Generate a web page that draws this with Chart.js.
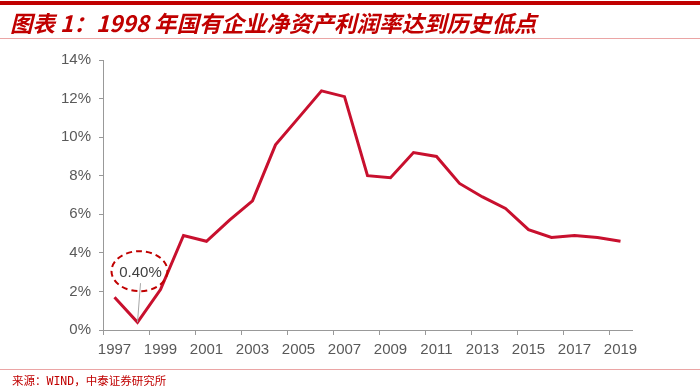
<!DOCTYPE html>
<html>
<head>
<meta charset="utf-8">
<script src="https://cdn.jsdelivr.net/npm/chart.js@4"></script>
<style>
    body { margin: 0; background: #fff; }
    #wrap { position: relative; width: 700px; height: 390px; overflow: hidden; }
    #chart { position: absolute; left: 0; top: 0; }
    .bar-top { position: absolute; left: 0; top: 1px; width: 700px; height: 4px; background: #c00000; }
    .rule { position: absolute; left: 0; width: 700px; height: 1px; background: #eba5a5; }
    #title { position: absolute; left: 10px; top: 6px; font: italic bold 22.5px "Noto Sans CJK SC", sans-serif; color: #c00000; white-space: nowrap; }
    #source { position: absolute; left: 12px; top: 372px; font: 11.5px "DejaVu Sans Mono", "Noto Sans CJK SC", monospace; color: #c00000; white-space: nowrap; }
</style>
</head>
<body>
<div id="wrap">
    <canvas id="chart" width="700" height="390"></canvas>
    <div class="bar-top"></div>
    <div id="title">图表 1：1998 年国有企业净资产利润率达到历史低点</div>
    <div class="rule" style="top:38px"></div>
    <div class="rule" style="top:369px"></div>
    <div id="source">来源：WIND，中泰证券研究所</div>
</div>
<script>
const years = ["1997", "1998", "1999", "2000", "2001", "2002", "2003", "2004", "2005", "2006", "2007", "2008",
    "2009", "2010", "2011", "2012", "2013", "2014", "2015", "2016", "2017", "2018", "2019"];
const roe = [1.7, 0.4, 2.1, 4.9, 4.6, 5.7, 6.7, 9.6, 11.0, 12.4, 12.1, 8.0,
    7.9, 9.2, 9.0, 7.6, 6.9, 6.3, 5.2, 4.8, 4.9, 4.8, 4.6];
const yTicks = [0, 2, 4, 6, 8, 10, 12, 14];
const lowIndex = 1; // 1998

// dashed ellipse callout on the 1998 low
const calloutPlugin = {
    id: "callout",
    afterDatasetsDraw(chart) {
        const ctx = chart.ctx;
        const x = chart.scales.x.getPixelForValue(lowIndex);
        const y = chart.scales.y.getPixelForValue(roe[lowIndex]);
        const cy = chart.scales.y.getPixelForValue(3.05);
        const cx = x + 2;

        ctx.save();
        ctx.strokeStyle = "#a6a6a6";
        ctx.lineWidth = 1;
        ctx.beginPath();
        ctx.moveTo(x, y);
        ctx.lineTo(cx + 1, cy + 12);
        ctx.stroke();

        ctx.strokeStyle = "#c00000";
        ctx.lineWidth = 2;
        ctx.setLineDash([6, 4]);
        ctx.beginPath();
        ctx.ellipse(cx, cy, 28, 20, 0, 0, Math.PI * 2);
        ctx.stroke();

        ctx.fillStyle = "#404040";
        ctx.font = "15px 'Liberation Sans', Arial, sans-serif";
        ctx.textAlign = "center";
        ctx.textBaseline = "middle";
        ctx.fillText(roe[lowIndex].toFixed(2) + "%", cx + 1, cy + 2);
        ctx.restore();
    }
};

new Chart(document.getElementById("chart"), {
    type: "line",
    data: {
        labels: years,
        datasets: [{
            data: roe,
            borderColor: "#c8102e",
            borderWidth: 3,
            pointRadius: 0,
            tension: 0,
            fill: false
        }]
    },
    options: {
        responsive: false,
        animation: false,
        events: [],
        layout: { padding: { left: 0, right: 68, top: 60, bottom: 0 } },
        plugins: {
            legend: { display: false },
            tooltip: { enabled: false }
        },
        scales: {
            x: {
                offset: true,
                afterFit: s => { s.height = 60; },
                border: { color: "#999", width: 1 },
                grid: {
                    offset: true,
                    drawOnChartArea: false,
                    tickLength: 5,
                    color: c => (c.index % 2 === 0 ? "#999" : "rgba(0,0,0,0)")
                },
                ticks: {
                    autoSkip: false,
                    maxRotation: 0,
                    padding: 6,
                    color: "#595959",
                    font: { family: "'Liberation Sans', Arial, sans-serif", size: 15 },
                    callback: (v, i) => (i % 2 === 0 ? years[i] : "")
                }
            },
            y: {
                min: 0,
                max: 14,
                afterFit: s => { s.width = 103; },
                afterBuildTicks: s => { s.ticks = yTicks.map(v => ({ value: v })); },
                border: { color: "#999", width: 1 },
                grid: { drawOnChartArea: false, tickLength: 4, color: "#999" },
                ticks: {
                    padding: 8,
                    color: "#595959",
                    font: { family: "'Liberation Sans', Arial, sans-serif", size: 15 },
                    callback: v => v + "%"
                }
            }
        }
    },
    plugins: [calloutPlugin]
});
</script>
</body>
</html>
